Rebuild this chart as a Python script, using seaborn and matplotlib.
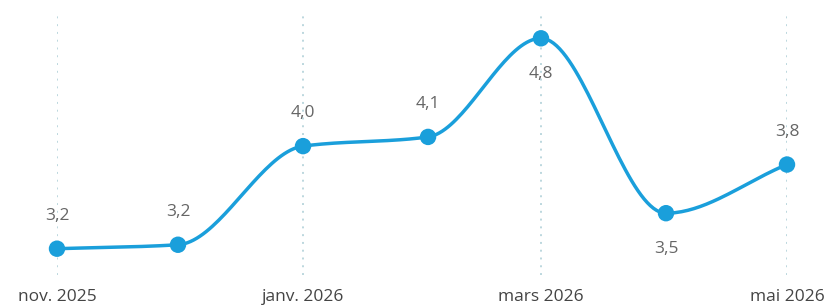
import numpy as np
import pandas as pd
import matplotlib
matplotlib.use("Agg")
import matplotlib.pyplot as plt
import matplotlib.dates as mdates
import seaborn as sns

# monthly values
months = ["2025-11-01", "2025-12-01", "2026-01-01", "2026-02-01",
          "2026-03-01", "2026-04-01", "2026-05-01"]
values = [3.20, 3.23, 3.98, 4.05, 4.80, 3.47, 3.84]
labels = ["3,2", "3,2", "4,0", "4,1", "4,8", "3,5", "3,8"]
label_below = [False, False, False, False, True, True, False]
tick_months = ["2025-11-01", "2026-01-01", "2026-03-01", "2026-05-01"]
tick_labels = ["nov. 2025", "janv. 2026", "mars 2026", "mai 2026"]

BLUE = "#1A9FDB"


def monotone_path(x, y, n=40):
    # Fritsch-Carlson monotone cubic, only used to draw the smoothed line
    x = np.asarray(x, float)
    y = np.asarray(y, float)
    h = np.diff(x)
    d = np.diff(y) / h
    m = np.zeros_like(y)
    m[0], m[-1] = d[0], d[-1]
    for i in range(1, len(y) - 1):
        if d[i - 1] * d[i] <= 0:
            m[i] = 0
        else:
            w1 = 2 * h[i] + h[i - 1]
            w2 = h[i] + 2 * h[i - 1]
            m[i] = (w1 + w2) / (w1 / d[i - 1] + w2 / d[i])
    xs, ys = [], []
    for i in range(len(h)):
        t = np.linspace(0, 1, n, endpoint=(i == len(h) - 1))
        h00 = 2 * t**3 - 3 * t**2 + 1
        h10 = t**3 - 2 * t**2 + t
        h01 = -2 * t**3 + 3 * t**2
        h11 = t**3 - t**2
        xs.append(x[i] + t * h[i])
        ys.append(h00 * y[i] + h10 * h[i] * m[i] + h01 * y[i + 1] + h11 * h[i] * m[i + 1])
    return np.concatenate(xs), np.concatenate(ys)


sns.set_style("white")
plt.rcParams["font.family"] = ["Open Sans", "DejaVu Sans"]

df = pd.DataFrame({"month": pd.to_datetime(months), "value": values})
xnum = mdates.date2num(df["month"])
sx, sy = monotone_path(xnum, df["value"])
smooth = pd.DataFrame({"month": mdates.num2date(sx), "value": sy})

fig = plt.figure(figsize=(8.28, 3.06), dpi=100)
ax = fig.add_axes([57 / 828, 31 / 306, 730 / 828, 263 / 306])

for t in pd.to_datetime(tick_months):
    ax.axvline(t, color="#BCD7DE", lw=1.4, ls=(0, (1, 3)), zorder=0)

sns.lineplot(data=smooth, x="month", y="value", ax=ax, color=BLUE, lw=2.5,
             clip_on=False, zorder=2)
sns.scatterplot(data=df, x="month", y="value", ax=ax, color=BLUE, s=140,
                edgecolor="none", clip_on=False, zorder=3)

for xv, yv, lab, below in zip(df["month"], df["value"], labels, label_below):
    off = -36 if below else 33
    ax.annotate(lab, (xv, yv), xytext=(0, off), textcoords="offset pixels",
                ha="center", va="center", fontsize=12.5, color="#666666")

ax.set_xlim(pd.Timestamp(months[0]), pd.Timestamp(months[-1]))
ax.set_ylim(3.0, 5.0)
ax.set_xticks(pd.to_datetime(tick_months))
ax.set_xticklabels(tick_labels)
ax.tick_params(axis="x", length=0, pad=10, labelsize=12.5, labelcolor="#444444")
ax.set_yticks([])
ax.set_xlabel("")
ax.set_ylabel("")
for s in ax.spines.values():
    s.set_visible(False)

fig.savefig("out.png", dpi=100)
